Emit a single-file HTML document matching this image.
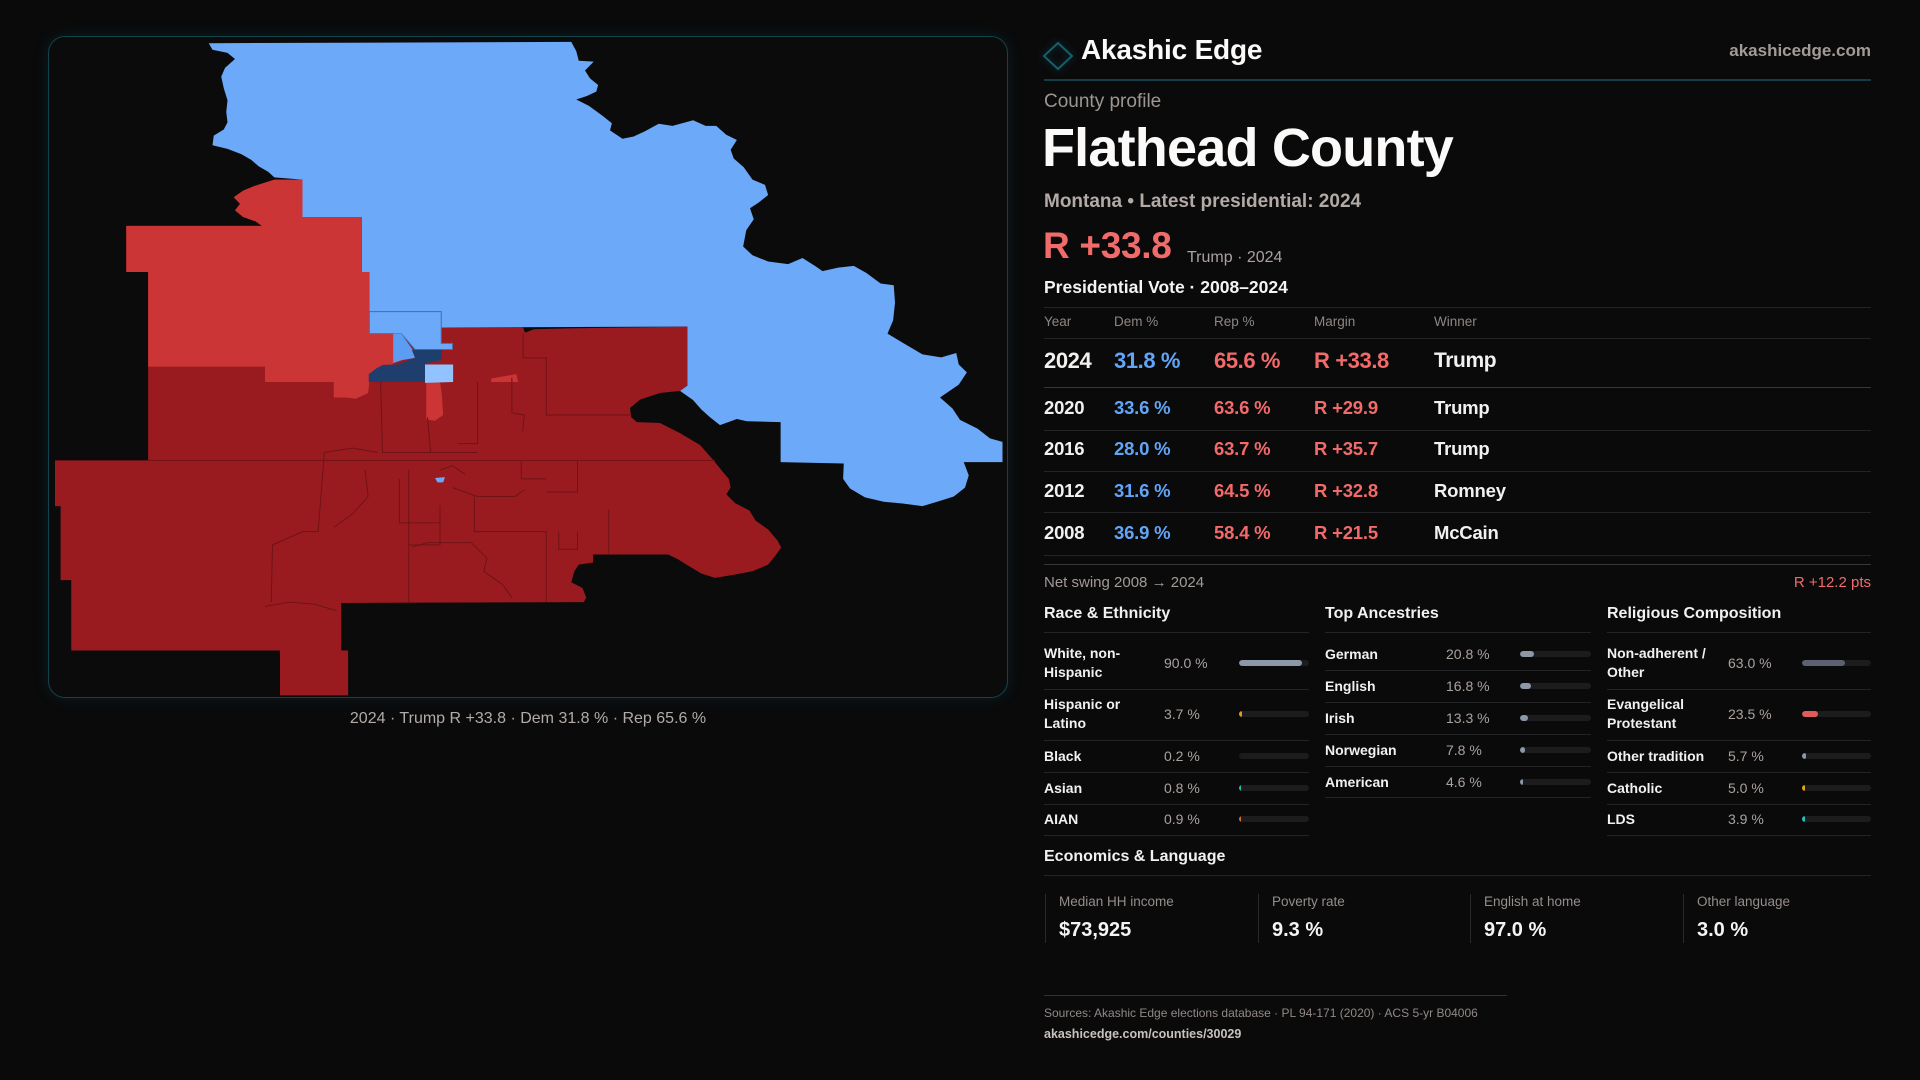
<!DOCTYPE html>
<html><head><meta charset="utf-8">
<style>
*{box-sizing:border-box}
body{margin:0;width:1920px;height:1080px;background:#0a0a0b;overflow:hidden;font-family:"Liberation Sans",sans-serif;position:relative;color:#f3f1ef}
.a{position:absolute;white-space:nowrap;line-height:1}
.hl{position:absolute;height:1px;background:#242426}
.g{color:#a59d99}
.b{font-weight:bold}
.dem{color:#62a5f7}
.rep{color:#f26a6a}
.r24{font-size:22px;font-weight:bold;letter-spacing:-0.4px}
.rr{font-size:18.5px;font-weight:bold;letter-spacing:-0.2px}
.th{font-size:13.5px;color:#8e8682}
.lab{font-size:14px;font-weight:bold;color:#f3f1ef;line-height:19px;white-space:nowrap}
.val{font-size:14px;color:#aaa29e}
.trk{position:absolute;height:6px;border-radius:3px;background:#1c1c1e;overflow:hidden}
.fil{position:absolute;left:0;top:0;height:6px;border-radius:3px}
.sl{font-size:13.5px;color:#958d89}
.sv{font-size:20px;font-weight:bold;color:#f6f4f2}
.sb{position:absolute;top:894px;width:1px;height:49px;background:#29292c}
</style></head><body>

<!-- Map panel -->
<div style="position:absolute;left:48px;top:36px;width:960px;height:662px;border:1px solid #12444e;border-radius:17px;box-shadow:0 0 14px rgba(20,95,110,0.22);background:#0b0b0c"></div>
<svg style="position:absolute;left:40px;top:30px" width="980" height="690" viewBox="0 0 1568 1568" preserveAspectRatio="none">
<!-- blue -->
<path fill="#6ca9f8" d="M270,30 L850,27 L858,48 L862,70 L886,72 L872,92 L880,110 L893,125 L890,140 L875,150 L858,158 L878,172 L900,195 L915,212 L912,228 L932,247 L950,242 L968,230 L990,213 L1012,218 L1045,205 L1065,218 L1082,218 L1098,238 L1115,250 L1105,272 L1110,292 L1126,312 L1140,340 L1160,352 L1165,375 L1150,392 L1136,405 L1142,430 L1130,455 L1125,492 L1140,512 L1165,526 L1197,532 L1220,518 L1242,538 L1252,548 L1277,540 L1302,536 L1322,552 L1345,576 L1366,580 L1368,620 L1365,660 L1356,690 L1382,712 L1412,737 L1442,744 L1466,734 L1470,760 L1483,778 L1470,806 L1440,835 L1460,860 L1472,886 L1500,906 L1520,928 L1540,936 L1540,982 L1478,982 L1486,1012 L1480,1040 L1462,1060 L1440,1070 L1412,1082 L1380,1076 L1350,1072 L1320,1062 L1296,1042 L1285,1020 L1286,985 L1185,982 L1185,891 L1131,889 L1115,884 L1088,898 L1072,880 L1058,862 L1045,841 L1024,820 L1036,808 L1036,674 L642,676 L642,640 L527,640 L527,550 L515,550 L515,425 L420,425 L420,340 L375,335 L365,322 L350,310 L338,295 L322,282 L300,270 L276,262 L278,240 L294,226 L300,210 L298,186 L300,160 L294,132 L290,106 L296,86 L312,66 L300,52 L276,45 Z"/>
<!-- dark red base -->
<path fill="#9a1b1f" d="M642,676 L773,676 L776,688 L790,680 L845,678 L1036,674 L1036,808 L1024,820 L992,825 L960,840 L944,859 L946,880 L955,891 L992,893 L1024,916 L1056,943 L1077,977 L1090,1000 L1102,1020 L1105,1040 L1098,1055 L1112,1075 L1135,1092 L1145,1115 L1165,1135 L1180,1160 L1186,1176 L1176,1196 L1165,1215 L1140,1230 L1110,1238 L1080,1245 L1058,1235 L1038,1218 L1020,1202 L1005,1192 L885,1192 L885,1210 L862,1215 L855,1230 L850,1255 L868,1268 L874,1290 L870,1300 L482,1302 L482,1410 L493,1410 L493,1512 L384,1512 L384,1410 L50,1410 L50,1250 L33,1250 L33,1082 L24,1082 L24,978 L173,978 L173,550 L138,550 L138,445 L355,445 L345,435 L325,425 L312,410 L320,395 L310,380 L325,365 L342,355 L375,340 L420,340 L420,425 L515,425 L515,550 L527,550 L527,640 L642,640 Z"/>
<!-- light red -->
<path fill="#cc3535" d="M138,445 L355,445 L345,435 L325,425 L312,410 L320,395 L310,380 L325,365 L342,355 L375,340 L420,340 L420,425 L515,425 L515,550 L527,550 L527,690 L565,690 L565,760 L540,770 L527,785 L527,800 L525,825 L505,838 L490,835 L470,835 L470,800 L360,800 L360,765 L173,765 L173,550 L138,550 Z"/>
<path fill="#cc3535" d="M618,800 L640,800 L643,830 L645,875 L632,888 L618,885 Z"/>
<path fill="#cc3535" d="M722,792 L762,782 L765,800 L722,800 Z"/>
<!-- small blues -->
<path fill="#6ca9f8" stroke="#3f6fae" stroke-width="1" vector-effect="non-scaling-stroke" d="M527,640 L642,640 L642,712 L660,712 L660,726 L600,726 L578,690 L527,690 Z"/>
<path fill="#5d9cf3" d="M565,690 L578,690 L597,728 L600,745 L580,750 L565,757 Z"/>
<path fill="#1e3f6d" d="M595,727 L643,727 L643,750 L616,758 L616,800 L526,800 L526,782 L539,768 L549,761 L573,760 L587,752 L600,745 Z"/>
<path fill="#90c3ff" d="M616,760 L661,760 L661,800 L616,802 Z"/>
<path fill="#6ca9f8" d="M632,1018 L648,1016 L645,1028 L636,1028 Z"/>
<!-- precinct lines -->
<g fill="none" stroke="#6e1317" stroke-width="1" vector-effect="non-scaling-stroke">
<path vector-effect="non-scaling-stroke" d="M173,978 L1080,978"/>
<path vector-effect="non-scaling-stroke" d="M545,800 L548,960 L700,960"/>
<path vector-effect="non-scaling-stroke" d="M700,800 L700,940 L668,940"/>
<path vector-effect="non-scaling-stroke" d="M773,690 L773,745 L810,745 L810,875 L945,875"/>
<path vector-effect="non-scaling-stroke" d="M755,790 L755,870 L775,875 L772,912"/>
<path vector-effect="non-scaling-stroke" d="M455,960 L445,1140 L420,1140 L372,1170 L370,1300"/>
<path vector-effect="non-scaling-stroke" d="M590,1000 L590,1300"/>
<path vector-effect="non-scaling-stroke" d="M640,1080 L640,1170 L590,1170"/>
<path vector-effect="non-scaling-stroke" d="M695,1060 L695,1140 L810,1140 L810,1300"/>
<path vector-effect="non-scaling-stroke" d="M860,980 L860,1050 L810,1050"/>
<path vector-effect="non-scaling-stroke" d="M770,980 L770,1020 L810,1020"/>
<path vector-effect="non-scaling-stroke" d="M575,1020 L575,1120 L640,1120"/>
<path vector-effect="non-scaling-stroke" d="M910,1090 L910,1190"/>
<path vector-effect="non-scaling-stroke" d="M830,1140 L830,1180 L860,1180 L860,1140"/>
<path vector-effect="non-scaling-stroke" d="M595,1175 L620,1165 L690,1165 L715,1200 L710,1230 L740,1260 L755,1290"/>
<path vector-effect="non-scaling-stroke" d="M455,960 L500,950 L540,960"/>
<path vector-effect="non-scaling-stroke" d="M520,1000 L525,1060 L500,1100 L470,1130"/>
<path vector-effect="non-scaling-stroke" d="M620,880 L625,960"/>
<path vector-effect="non-scaling-stroke" d="M660,1040 L700,1060 L760,1060 L775,1045"/>
<path vector-effect="non-scaling-stroke" d="M360,1310 L400,1300 L440,1305 L475,1320"/>
<path vector-effect="non-scaling-stroke" d="M640,1000 L660,990 L680,1010"/>
</g>
</svg>
<div class="a g" style="left:48px;width:960px;text-align:center;top:711px;font-size:16px;color:#b3aba7">2024 · Trump R +33.8 · Dem 31.8 % · Rep 65.6 %</div>

<!-- Header -->
<svg style="position:absolute;left:1042px;top:41px;filter:drop-shadow(0 0 4px rgba(20,110,125,0.5))" width="32" height="30"><polygon points="16,2 30,15 16,28 2,15" fill="none" stroke="#14606b" stroke-width="2"/></svg>
<div class="a b" style="left:1081px;top:36px;font-size:28px;letter-spacing:-0.2px;color:#fbfaf9">Akashic Edge</div>
<div class="a b" style="right:49px;top:42px;font-size:17px;color:#a39b97">akashicedge.com</div>
<div class="hl" style="left:1044px;top:79px;width:827px;height:2px;background:#123d46"></div>

<div class="a g" style="left:1044px;top:92px;font-size:19px;color:#9d9591">County profile</div>
<div class="a b" style="left:1042px;top:121px;font-size:54px;letter-spacing:-0.8px;color:#fbfaf9">Flathead County</div>
<div class="a b" style="left:1044px;top:192px;font-size:19px;color:#b3aaa6">Montana • Latest presidential: 2024</div>
<div class="a b rep" style="left:1043px;top:227px;font-size:37px;letter-spacing:-0.3px;color:#f26b6b">R +33.8</div>
<div class="a" style="left:1187px;top:250px;font-size:16px;color:#aaa29e">Trump · 2024</div>
<div class="a b" style="left:1044px;top:279px;font-size:17.5px;color:#f6f4f2">Presidential Vote · 2008–2024</div>

<!-- table -->
<div class="hl" style="left:1044px;top:307px;width:827px"></div>
<div class="a th" style="left:1044px;top:315px">Year</div>
<div class="a th" style="left:1114px;top:315px">Dem %</div>
<div class="a th" style="left:1214px;top:315px">Rep %</div>
<div class="a th" style="left:1314px;top:315px">Margin</div>
<div class="a th" style="left:1434px;top:315px">Winner</div>
<div class="hl" style="left:1044px;top:338px;width:827px"></div>

<div class="a r24" style="left:1044px;top:350px">2024</div>
<div class="a r24 dem" style="left:1114px;top:350px">31.8 %</div>
<div class="a r24 rep" style="left:1214px;top:350px">65.6 %</div>
<div class="a r24 rep" style="left:1314px;top:350px">R +33.8</div>
<div class="a r24" style="left:1434px;top:350px;font-size:21px">Trump</div>
<div class="hl" style="left:1044px;top:387px;width:827px;background:#38383a"></div>

<div class="a rr" style="left:1044px;top:399px">2020</div>
<div class="a rr dem" style="left:1114px;top:399px">33.6 %</div>
<div class="a rr rep" style="left:1214px;top:399px">63.6 %</div>
<div class="a rr rep" style="left:1314px;top:399px">R +29.9</div>
<div class="a rr" style="left:1434px;top:399px">Trump</div>
<div class="hl" style="left:1044px;top:430px;width:827px"></div>

<div class="a rr" style="left:1044px;top:440px">2016</div>
<div class="a rr dem" style="left:1114px;top:440px">28.0 %</div>
<div class="a rr rep" style="left:1214px;top:440px">63.7 %</div>
<div class="a rr rep" style="left:1314px;top:440px">R +35.7</div>
<div class="a rr" style="left:1434px;top:440px">Trump</div>
<div class="hl" style="left:1044px;top:471px;width:827px"></div>

<div class="a rr" style="left:1044px;top:482px">2012</div>
<div class="a rr dem" style="left:1114px;top:482px">31.6 %</div>
<div class="a rr rep" style="left:1214px;top:482px">64.5 %</div>
<div class="a rr rep" style="left:1314px;top:482px">R +32.8</div>
<div class="a rr" style="left:1434px;top:482px">Romney</div>
<div class="hl" style="left:1044px;top:512px;width:827px"></div>

<div class="a rr" style="left:1044px;top:524px">2008</div>
<div class="a rr dem" style="left:1114px;top:524px">36.9 %</div>
<div class="a rr rep" style="left:1214px;top:524px">58.4 %</div>
<div class="a rr rep" style="left:1314px;top:524px">R +21.5</div>
<div class="a rr" style="left:1434px;top:524px">McCain</div>
<div class="hl" style="left:1044px;top:555px;width:827px"></div>
<div class="hl" style="left:1044px;top:564px;width:827px;background:#38383a"></div>

<div class="a g" style="left:1044px;top:575px;font-size:15px;color:#a39b97">Net swing 2008 → 2024</div>
<div class="a rep" style="right:49px;top:575px;font-size:15px">R +12.2 pts</div>

<!-- Race & Ethnicity -->
<div class="a b" style="left:1044px;top:606px;font-size:16px">Race &amp; Ethnicity</div>
<div class="hl" style="left:1044px;top:632px;width:265px"></div>
<div class="a lab" style="left:1044px;top:644px">White, non-<br>Hispanic</div>
<div class="a val" style="left:1164px;top:656px">90.0 %</div>
<div class="trk" style="left:1239px;top:660px;width:70px"><div class="fil" style="width:63px;background:#8c97a8"></div></div>
<div class="hl" style="left:1044px;top:689px;width:265px"></div>
<div class="a lab" style="left:1044px;top:695px">Hispanic or<br>Latino</div>
<div class="a val" style="left:1164px;top:707px">3.7 %</div>
<div class="trk" style="left:1239px;top:711px;width:70px"><div class="fil" style="width:3px;background:#e39a1a"></div></div>
<div class="hl" style="left:1044px;top:740px;width:265px"></div>
<div class="a lab" style="left:1044px;top:747px">Black</div>
<div class="a val" style="left:1164px;top:749px">0.2 %</div>
<div class="trk" style="left:1239px;top:753px;width:70px"></div>
<div class="hl" style="left:1044px;top:772px;width:265px"></div>
<div class="a lab" style="left:1044px;top:779px">Asian</div>
<div class="a val" style="left:1164px;top:781px">0.8 %</div>
<div class="trk" style="left:1239px;top:785px;width:70px"><div class="fil" style="width:2px;background:#1fbf9f"></div></div>
<div class="hl" style="left:1044px;top:804px;width:265px"></div>
<div class="a lab" style="left:1044px;top:810px">AIAN</div>
<div class="a val" style="left:1164px;top:812px">0.9 %</div>
<div class="trk" style="left:1239px;top:816px;width:70px"><div class="fil" style="width:2px;background:#cf6f1c"></div></div>
<div class="hl" style="left:1044px;top:835px;width:265px"></div>

<!-- Top Ancestries -->
<div class="a b" style="left:1325px;top:606px;font-size:16px">Top Ancestries</div>
<div class="hl" style="left:1325px;top:632px;width:266px"></div>
<div class="a lab" style="left:1325px;top:645px">German</div>
<div class="a val" style="left:1446px;top:647px">20.8 %</div>
<div class="trk" style="left:1520px;top:651px;width:71px"><div class="fil" style="width:14px;background:#8c97a8"></div></div>
<div class="hl" style="left:1325px;top:670px;width:266px"></div>
<div class="a lab" style="left:1325px;top:677px">English</div>
<div class="a val" style="left:1446px;top:679px">16.8 %</div>
<div class="trk" style="left:1520px;top:683px;width:71px"><div class="fil" style="width:11px;background:#8c97a8"></div></div>
<div class="hl" style="left:1325px;top:702px;width:266px"></div>
<div class="a lab" style="left:1325px;top:709px">Irish</div>
<div class="a val" style="left:1446px;top:711px">13.3 %</div>
<div class="trk" style="left:1520px;top:715px;width:71px"><div class="fil" style="width:8px;background:#8c97a8"></div></div>
<div class="hl" style="left:1325px;top:734px;width:266px"></div>
<div class="a lab" style="left:1325px;top:741px">Norwegian</div>
<div class="a val" style="left:1446px;top:743px">7.8 %</div>
<div class="trk" style="left:1520px;top:747px;width:71px"><div class="fil" style="width:5px;background:#8c97a8"></div></div>
<div class="hl" style="left:1325px;top:766px;width:266px"></div>
<div class="a lab" style="left:1325px;top:773px">American</div>
<div class="a val" style="left:1446px;top:775px">4.6 %</div>
<div class="trk" style="left:1520px;top:779px;width:71px"><div class="fil" style="width:3px;background:#8c97a8"></div></div>
<div class="hl" style="left:1325px;top:797px;width:266px"></div>

<!-- Religious -->
<div class="a b" style="left:1607px;top:606px;font-size:16px">Religious Composition</div>
<div class="hl" style="left:1607px;top:632px;width:264px"></div>
<div class="a lab" style="left:1607px;top:644px">Non-adherent /<br>Other</div>
<div class="a val" style="left:1728px;top:656px">63.0 %</div>
<div class="trk" style="left:1802px;top:660px;width:69px"><div class="fil" style="width:43px;background:#5c6171"></div></div>
<div class="hl" style="left:1607px;top:689px;width:264px"></div>
<div class="a lab" style="left:1607px;top:695px">Evangelical<br>Protestant</div>
<div class="a val" style="left:1728px;top:707px">23.5 %</div>
<div class="trk" style="left:1802px;top:711px;width:69px"><div class="fil" style="width:16px;background:#e05b5b"></div></div>
<div class="hl" style="left:1607px;top:740px;width:264px"></div>
<div class="a lab" style="left:1607px;top:747px">Other tradition</div>
<div class="a val" style="left:1728px;top:749px">5.7 %</div>
<div class="trk" style="left:1802px;top:753px;width:69px"><div class="fil" style="width:4px;background:#8c97a8"></div></div>
<div class="hl" style="left:1607px;top:772px;width:264px"></div>
<div class="a lab" style="left:1607px;top:779px">Catholic</div>
<div class="a val" style="left:1728px;top:781px">5.0 %</div>
<div class="trk" style="left:1802px;top:785px;width:69px"><div class="fil" style="width:3px;background:#e0a418"></div></div>
<div class="hl" style="left:1607px;top:804px;width:264px"></div>
<div class="a lab" style="left:1607px;top:810px">LDS</div>
<div class="a val" style="left:1728px;top:812px">3.9 %</div>
<div class="trk" style="left:1802px;top:816px;width:69px"><div class="fil" style="width:3px;background:#22c2b5"></div></div>
<div class="hl" style="left:1607px;top:835px;width:264px"></div>

<!-- Economics -->
<div class="a b" style="left:1044px;top:849px;font-size:16px">Economics &amp; Language</div>
<div class="hl" style="left:1044px;top:875px;width:827px"></div>
<div class="sb" style="left:1045px"></div>
<div class="sb" style="left:1258px"></div>
<div class="sb" style="left:1470px"></div>
<div class="sb" style="left:1683px"></div>
<div class="a sl" style="left:1059px;top:895px">Median HH income</div>
<div class="a sv" style="left:1059px;top:920px">$73,925</div>
<div class="a sl" style="left:1272px;top:895px">Poverty rate</div>
<div class="a sv" style="left:1272px;top:920px">9.3 %</div>
<div class="a sl" style="left:1484px;top:895px">English at home</div>
<div class="a sv" style="left:1484px;top:920px">97.0 %</div>
<div class="a sl" style="left:1697px;top:895px">Other language</div>
<div class="a sv" style="left:1697px;top:920px">3.0 %</div>

<!-- footer -->
<div class="hl" style="left:1044px;top:995px;width:463px;background:#123d46"></div>
<div class="a" style="left:1044px;top:1007px;font-size:12px;color:#918985">Sources: Akashic Edge elections database · PL 94-171 (2020) · ACS 5-yr B04006</div>
<div class="a b" style="left:1044px;top:1028px;font-size:12.5px;color:#c9c1bd">akashicedge.com/counties/30029</div>
</body></html>
